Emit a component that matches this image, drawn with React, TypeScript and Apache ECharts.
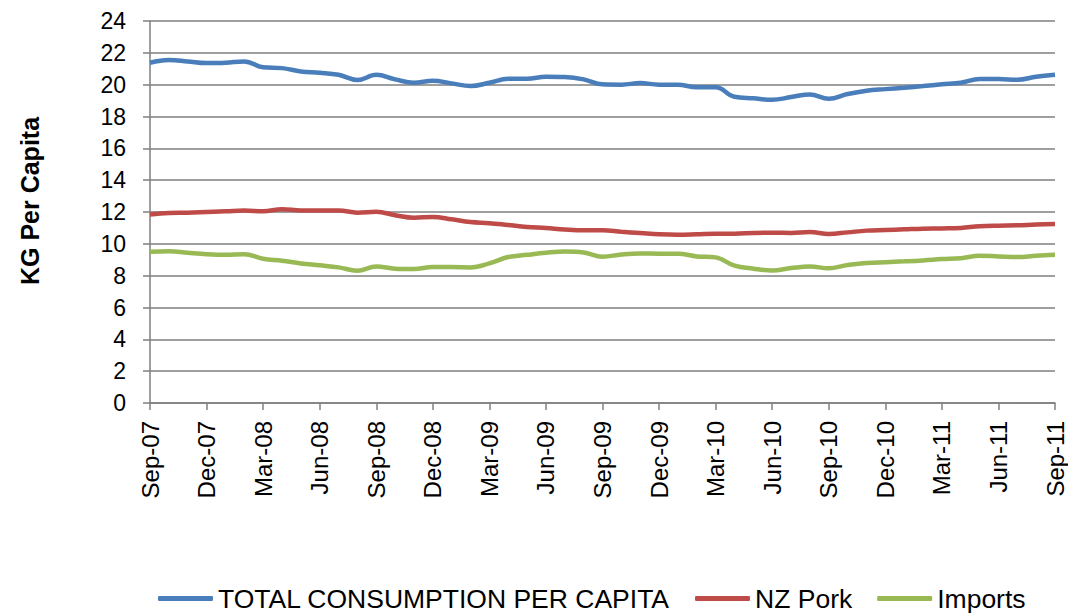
import React, { useEffect, useRef } from "react";
import * as echarts from "echarts";

const months = [
  "Sep-07", "Oct-07", "Nov-07", "Dec-07",
  "Jan-08", "Feb-08", "Mar-08", "Apr-08", "May-08", "Jun-08", "Jul-08", "Aug-08", "Sep-08", "Oct-08", "Nov-08", "Dec-08",
  "Jan-09", "Feb-09", "Mar-09", "Apr-09", "May-09", "Jun-09", "Jul-09", "Aug-09", "Sep-09", "Oct-09", "Nov-09", "Dec-09",
  "Jan-10", "Feb-10", "Mar-10", "Apr-10", "May-10", "Jun-10", "Jul-10", "Aug-10", "Sep-10", "Oct-10", "Nov-10", "Dec-10",
  "Jan-11", "Feb-11", "Mar-11", "Apr-11", "May-11", "Jun-11", "Jul-11", "Aug-11", "Sep-11",
];

const totalConsumption = [
  21.38, 21.55, 21.46, 21.36, 21.38, 21.46, 21.09, 21.04, 20.83, 20.75, 20.62, 20.29, 20.62,
  20.33, 20.12, 20.25, 20.08, 19.91, 20.12, 20.37, 20.37, 20.5, 20.48, 20.33, 20.02,
  20.0, 20.1, 20.0, 20.0, 19.83, 19.83, 19.24, 19.14, 19.05, 19.22, 19.39, 19.11,
  19.41, 19.62, 19.72, 19.81, 19.91, 20.02, 20.12, 20.35, 20.35, 20.31, 20.5, 20.62,
];

const nzPork = [
  11.85, 11.94, 11.96, 12.0, 12.04, 12.1, 12.04, 12.17, 12.1, 12.1, 12.1, 11.96, 12.02,
  11.8, 11.64, 11.69, 11.54, 11.37, 11.3, 11.18, 11.06, 10.99, 10.9, 10.85, 10.85,
  10.76, 10.68, 10.6, 10.57, 10.6, 10.64, 10.64, 10.68, 10.7, 10.68, 10.74, 10.62,
  10.72, 10.83, 10.87, 10.91, 10.95, 10.97, 11.0, 11.1, 11.14, 11.16, 11.22, 11.25,
];

const imports = [
  9.5, 9.54, 9.44, 9.35, 9.31, 9.35, 9.06, 8.94, 8.77, 8.65, 8.52, 8.31, 8.58,
  8.44, 8.42, 8.54, 8.54, 8.52, 8.77, 9.17, 9.31, 9.44, 9.52, 9.46, 9.19,
  9.33, 9.4, 9.38, 9.38, 9.21, 9.15, 8.63, 8.44, 8.33, 8.48, 8.58, 8.46,
  8.67, 8.79, 8.85, 8.9, 8.96, 9.04, 9.1, 9.25, 9.21, 9.17, 9.25, 9.31,
];

const seriesNames = ["TOTAL CONSUMPTION PER CAPITA", "NZ Pork", "Imports"];
const seriesColors = ["#4A7EBB", "#BE4B48", "#98B954"];
const yAxisTitle = "KG Per Capita";

const FONT = "Arial, 'Liberation Sans', sans-serif";

export default function App() {
  const ref = useRef<HTMLDivElement>(null);

  useEffect(() => {
    document.body.style.margin = "0";
    if (!ref.current) return;
    const chart = echarts.init(ref.current, null, { renderer: "svg" });
    const dataSets = [totalConsumption, nzPork, imports];
    chart.setOption({
      animation: false,
      backgroundColor: "#ffffff",
      textStyle: { fontFamily: FONT },
      grid: { left: 150, right: 13, top: 21, bottom: 212, containLabel: false },
      legend: {
        data: seriesNames,
        left: 158,
        top: 585,
        padding: 0,
        itemWidth: 55,
        itemHeight: 5,
        itemGap: 25,
        icon: "roundRect",
        textStyle: { fontSize: 26.5, color: "#000", fontFamily: FONT },
      },
      graphic: [
        {
          type: "text",
          x: 30,
          y: 201,
          rotation: Math.PI / 2,
          style: {
            text: yAxisTitle,
            font: `bold 25px ${FONT}`,
            fill: "#000",
            align: "center",
            verticalAlign: "middle",
          },
        },
      ],
      xAxis: {
        type: "category",
        data: months,
        boundaryGap: false,
        axisLine: { show: true, lineStyle: { color: "#7f7f7f", width: 1.5 } },
        axisTick: { show: true, interval: 2, length: 7, lineStyle: { color: "#7f7f7f", width: 1.5 } },
        axisLabel: {
          interval: 2,
          rotate: 90,
          margin: 18,
          fontSize: 24,
          color: "#000",
          fontFamily: FONT,
        },
        splitLine: { show: false },
      },
      yAxis: {
        type: "value",
        min: 0,
        max: 24,
        interval: 2,
        axisLine: { show: true, lineStyle: { color: "#7f7f7f", width: 1.5 } },
        axisTick: { show: true, length: 7, lineStyle: { color: "#7f7f7f", width: 1.5 } },
        axisLabel: { margin: 24, fontSize: 23, color: "#000", fontFamily: FONT },
        splitLine: { show: true, lineStyle: { color: "#7f7f7f", width: 1.5 } },
      },
      series: dataSets.map((d, i) => ({
        name: seriesNames[i],
        type: "line",
        data: d,
        smooth: 0.4,
        symbol: "none",
        lineStyle: { color: seriesColors[i], width: 4.5 },
        itemStyle: { color: seriesColors[i] },
      })),
    });
    return () => chart.dispose();
  }, []);

  return <div ref={ref} style={{ width: 1068, height: 615 }} />;
}
